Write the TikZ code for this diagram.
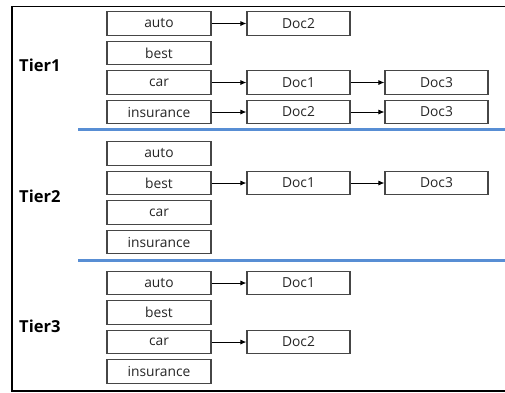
\documentclass[tikz,border=0pt]{standalone}
\usepackage{fontspec}
\setmainfont{Open Sans}
\usetikzlibrary{arrows.meta}
\definecolor{tierblue}{RGB}{88,142,212}
\definecolor{boxline}{RGB}{70,70,70}
\tikzset{
  x=1pt, y=-1pt,
  termbox/.style={draw=boxline, line width=1.1pt, minimum width=104pt, minimum height=23.5pt,
    inner sep=0pt, font=\fontsize{13.8}{14}\selectfont, text=black!85},
  docbox/.style={termbox, minimum width=103pt},
  tierlabel/.style={anchor=west, inner sep=0pt, font=\fontsize{16.5}{18}\selectfont\bfseries},
  link/.style={line width=0.9pt, -{Latex[length=6pt,width=5pt]}},
  divider/.style={draw=tierblue, line width=3pt},
  frame/.style={line width=1.9pt}
}
\begin{document}
\begin{tikzpicture}
\useasboundingbox (0,0) rectangle (505,392);
\fill[white] (0,0) rectangle (505,392);
% outer frame (right side lies beyond the page)
\draw[frame] (520,6.5) -- (12,6.5) -- (12,391) -- (520,391);

% Tier 1
\node[tierlabel] (tier1) at (19,65) {Tier1};
\node[termbox] (t1auto) at (159,23.5) {auto};
\node[termbox] (t1best) at (159,53) {best};
\node[termbox] (t1car) at (159,82.5) {car};
\node[termbox] (t1ins) at (159,112) {insurance};
\node[docbox] (t1autoD2) at (298.5,23.5) {Doc2};
\node[docbox] (t1carD1) at (298.5,82.5) {Doc1};
\node[docbox] (t1carD3) at (436.5,82.5) {Doc3};
\node[docbox] (t1insD2) at (298.5,112) {Doc2};
\node[docbox] (t1insD3) at (436.5,112) {Doc3};
\draw[link] (t1auto) -- (t1autoD2);
\draw[link] (t1car) -- (t1carD1);
\draw[link] (t1carD1) -- (t1carD3);
\draw[link] (t1ins) -- (t1insD2);
\draw[link] (t1insD2) -- (t1insD3);

\coordinate (div1a) at (78,129.5);
\coordinate (div1b) at (505,129.5);
\draw[divider] (div1a) -- (div1b);

% Tier 2
\node[tierlabel] (tier2) at (19,196) {Tier2};
\node[termbox] (t2auto) at (159,153.5) {auto};
\node[termbox] (t2best) at (159,183) {best};
\node[termbox] (t2car) at (159,212.5) {car};
\node[termbox] (t2ins) at (159,242) {insurance};
\node[docbox] (t2bestD1) at (298.5,183) {Doc1};
\node[docbox] (t2bestD3) at (436.5,183) {Doc3};
\draw[link] (t2best) -- (t2bestD1);
\draw[link] (t2bestD1) -- (t2bestD3);

\coordinate (div2a) at (78,260);
\coordinate (div2b) at (505,260);
\draw[divider] (div2a) -- (div2b);

% Tier 3
\node[tierlabel] (tier3) at (19,326) {Tier3};
\node[termbox] (t3auto) at (159,283) {auto};
\node[termbox] (t3best) at (159,312.5) {best};
\node[termbox] (t3car) at (159,342) {car};
\node[termbox] (t3ins) at (159,371.5) {insurance};
\node[docbox] (t3autoD1) at (298.5,283) {Doc1};
\node[docbox] (t3carD2) at (298.5,342) {Doc2};
\draw[link] (t3auto) -- (t3autoD1);
\draw[link] (t3car) -- (t3carD2);
\end{tikzpicture}
\end{document}
